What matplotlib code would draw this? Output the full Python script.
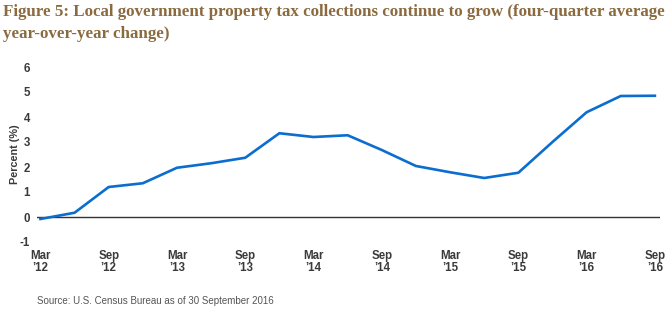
import matplotlib

matplotlib.use("Agg")
import matplotlib.pyplot as plt

# Quarterly four-quarter average y/y change, Mar 2012 - Sep 2016
quarters = [
    "Mar '12", "Jun '12", "Sep '12", "Dec '12",
    "Mar '13", "Jun '13", "Sep '13", "Dec '13",
    "Mar '14", "Jun '14", "Sep '14", "Dec '14",
    "Mar '15", "Jun '15", "Sep '15", "Dec '15",
    "Mar '16", "Jun '16", "Sep '16",
]
pct_change = [
    -0.08, 0.17, 1.20, 1.35,
    1.97, 2.15, 2.37, 3.35,
    3.20, 3.27, 2.68, 2.04,
    1.79, 1.56, 1.77, 3.00,
    4.19, 4.84, 4.85,
]
tick_labels = ["Mar\n\u201912", "Sep\n\u201912", "Mar\n\u201913", "Sep\n\u201913",
               "Mar\n\u201914", "Sep\n\u201914", "Mar\n\u201915", "Sep\n\u201915",
               "Mar\n\u201916", "Sep\n\u201916"]
y_ticks = [-1, 0, 1, 2, 3, 4, 5, 6]

TITLE_COLOR = "#8a6a3e"
TEXT_COLOR = "#3a3a3a"
LINE_COLOR = "#0a6dcf"
sans = ["Liberation Sans", "DejaVu Sans"]

fig = plt.figure(figsize=(6.67, 3.21), dpi=100)
ax = fig.add_axes([37 / 667, 1 - 242 / 321, 623 / 667, 175 / 321])

x = list(range(len(quarters)))
ax.plot(x, pct_change, color=LINE_COLOR, linewidth=1.9, solid_joinstyle="miter")
ax.axhline(0, color="#333333", linewidth=1.0, zorder=1)

ax.set_xlim(-0.1, 18.15)
ax.set_ylim(-1, 6)
ax.set_yticks(y_ticks)
ax.set_yticklabels([str(v) for v in y_ticks])
ax.set_xticks(x[::2])
ax.set_xticklabels(tick_labels, linespacing=0.95)

for sp in ax.spines.values():
    sp.set_visible(False)
ax.tick_params(axis="both", length=0, colors=TEXT_COLOR, labelsize=8.3)
ax.tick_params(axis="y", pad=5)
ax.tick_params(axis="x", pad=6)
for lbl in ax.get_xticklabels() + ax.get_yticklabels():
    lbl.set_family(sans)
    lbl.set_fontweight("bold")

ax.set_ylabel("Percent (%)", family=sans, fontweight="bold", fontsize=7.8,
              color=TEXT_COLOR)
ax.yaxis.set_label_coords(-17 / 623, 0.5)

fig.text(3 / 667, 1 - 4 / 321,
         "Figure 5: Local government property tax collections continue to grow (four-quarter average\n"
         "year-over-year change)",
         family="Liberation Serif", fontweight="bold", fontsize=12.2,
         color=TITLE_COLOR, ha="left", va="top", linespacing=1.5)

fig.text(37 / 667, 1 - 301 / 321, "Source: U.S. Census Bureau as of 30 September 2016",
         family=sans, fontsize=7, color="#555555", ha="left", va="center")

fig.savefig("out.png", dpi=100)
plt.close(fig)
